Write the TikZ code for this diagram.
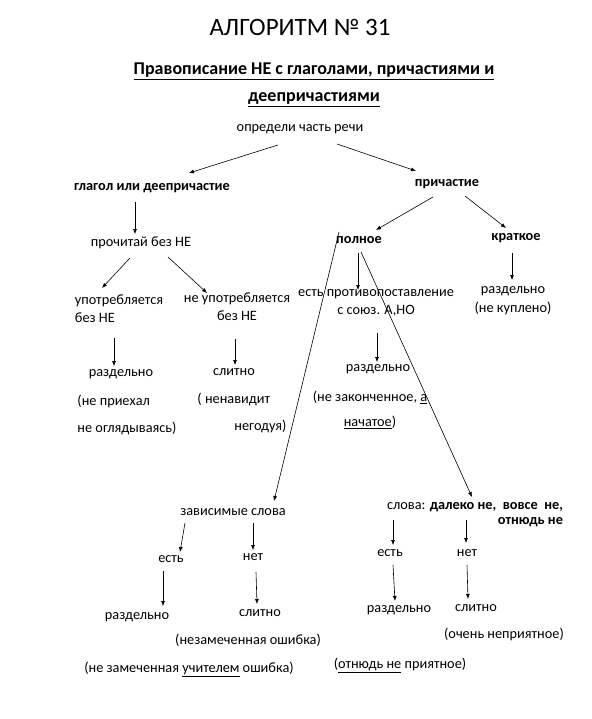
\documentclass[tikz,border=0pt]{standalone}
\usepackage{fontspec}
\setmainfont{Carlito}
\usetikzlibrary{arrows.meta,calc}

\begin{document}
\begin{tikzpicture}[x=1pt,y=-1pt,line width=0.6pt,
        >={Latex[length=5pt,width=4pt]},
        word/.style={inner sep=1pt,text height=10pt,text depth=3pt,font=\fontsize{14.3}{18}\selectfont},
        bword/.style={word,font=\fontsize{14.3}{18}\selectfont\bfseries},
        lines/.style={inner sep=1pt,align=center,font=\fontsize{14.3}{18}\selectfont}]
    \useasboundingbox[fill=white] (0,0) rectangle (591,719);

    \node[font=\fontsize{25}{30}\selectfont] (title) at (300,27) {АЛГОРИТМ № 31};
    \node[lines,font=\fontsize{18}{27}\selectfont\bfseries] (theme) at (314,85)
        {\underline{Правописание НЕ с глаголами, причастиями и}\\\underline{деепричастиями}};

    \node[word] (part) at (300,128) {определи часть речи};
    \node[bword] (glagol) at (152,187) {глагол или деепричастие};
    \node[bword] (prich) at (447,183) {причастие};

    % глагол, деепричастие
    \node[word] (read) at (141,243) {прочитай без НЕ};
    \node[lines,align=left] (used) at (119,309) {употребляется\\без НЕ};
    \node[lines] (unused) at (237,307) {не употребляется\\без НЕ};
    \node[word] (apart1) at (121,373) {раздельно};
    \node[lines,align=left] (ex1) at (127,415) {(не приехал\\[9pt]не оглядываясь)};
    \node[word] (joint1) at (234,372) {слитно};
    \node[lines,align=left] (ex2) at (242,413) {( ненавидит\\[9pt]\hspace*{37pt}негодуя)};

    % причастие
    \node[bword] (full) at (359,240) {полное};
    \node[bword] (short) at (516,237) {краткое};
    \node[lines] (apart2) at (513,301) {раздельно\\[1pt](не куплено)};
    \node[lines] (contra) at (376,303) {есть противопоставление\\с союз. А,НО};
    \node[word] (apart3) at (378,368) {раздельно};
    \node[lines] (ex3) at (370,410) {(не законченное, \underline{а}\\[7pt]\underline{начатое})};

    % зависимые слова
    \node[word] (dep) at (233,512) {зависимые слова};
    \node[word] (yes1) at (171,559) {есть};
    \node[word] (no1) at (253,557) {нет};
    \node[word] (apart4) at (137,616) {раздельно};
    \node[word] (joint2) at (260,613) {слитно};
    \node[word] (ex4) at (248,641) {(незамеченная ошибка)};
    \node[word] (ex5) at (189,669) {(не замеченная \underline{учителем} ошибка)};

    % далеко не, вовсе не, отнюдь не
    \node[lines,align=right,font=\fontsize{14.3}{15}\selectfont] (adv) at (475,515)
        {слова: \textbf{далеко не,\ \ вовсе\ \ не,}\\\textbf{отнюдь не}};
    \node[word] (yes2) at (390,553) {есть};
    \node[word] (no2) at (467,553) {нет};
    \node[word] (apart5) at (399,609) {раздельно};
    \node[word] (joint3) at (476,608) {слитно};
    \node[word] (ex6) at (504,635) {(очень неприятное)};
    \node[word] (ex7) at (400,665) {(\underline{отнюдь не} приятное)};

    \draw[->] ($(part)+(-22,17)$) -- ($(glagol)+(37,-14)$);
    \draw[->] ($(part)+(37,16)$) -- ($(prich)+(-31,-12)$);
    \draw[->] ($(glagol)+(-17,15)$) -- ($(read)+(-6,-9)$);
    \draw[->] ($(read)+(-11,15)$) -- ($(used)+(-17,-21)$);
    \draw[->] ($(read)+(27,14)$) -- ($(unused)+(-30,-14)$);
    \draw[->] ($(used)+(-5,29)$) -- ($(apart1)+(-7,-7)$);
    \draw[->] ($(unused)+(-2,32)$) -- ($(joint1)+(1,-7)$);

    \draw[->] ($(prich)+(-14,14)$) -- ($(full)+(17,-10)$);
    \draw[->] ($(prich)+(18,13)$) -- ($(short)+(-10,-9)$);
    \draw[->] ($(short)+(-4,16)$) -- ($(apart2)+(-1,-21)$);
    \draw[->] ($(full)+(-1,13)$) -- ($(contra)+(-18,-13)$);
    \draw[->] ($(contra)+(1,30)$) -- ($(apart3)+(-1,-6)$);
    \draw[->] ($(full)+(-20,-8)$) -- ($(dep)+(41,-11)$);
    \draw[->] ($(full)+(2,12)$) -- ($(adv)+(-3,-18)$);

    \draw[->] ($(dep)+(-48,11)$) -- ($(yes1)+(9,-7)$);
    \draw[->] ($(dep)+(20,11)$) -- ($(no1)+(0,-7)$);
    \draw[->] ($(yes1)+(-8,12)$) -- ($(apart4)+(26,-10)$);
    \draw[->] ($(no1)+(3,15)$) -- ($(joint2)+(-3,-9)$);

    \draw[->] ($(adv)+(-82,5)$) -- ($(yes2)+(3,-8)$);
    \draw[->] ($(adv)+(-9,5)$) -- ($(no2)+(-1,-10)$);
    \draw[->] ($(yes2)+(3,12)$) -- ($(apart5)+(-4,-8)$);
    \draw[->] ($(no2)+(0,12)$) -- ($(joint3)+(-8,-9)$);
\end{tikzpicture}
\end{document}
